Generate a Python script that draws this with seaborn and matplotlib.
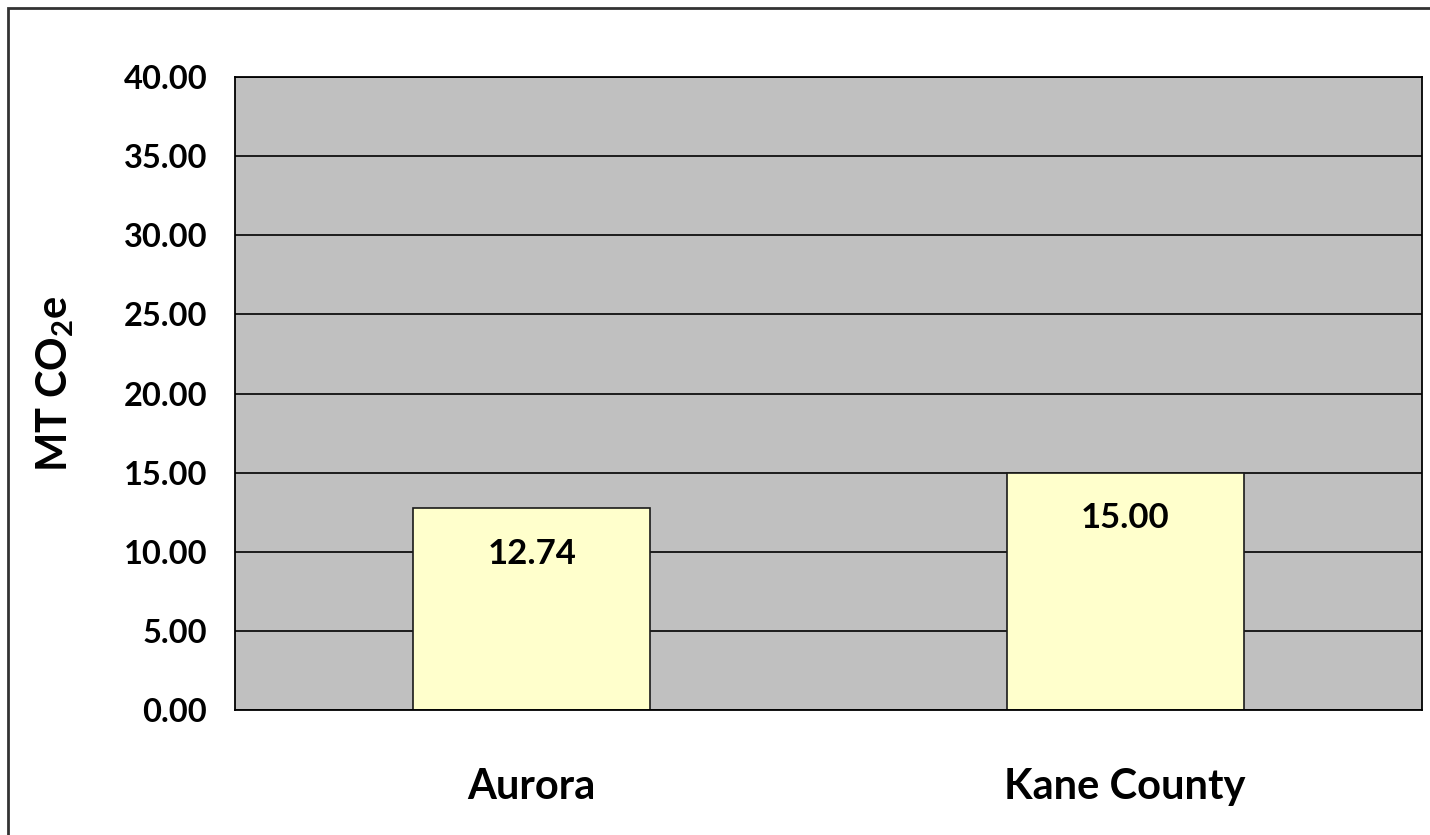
import matplotlib
matplotlib.use("Agg")
import matplotlib.pyplot as plt
from matplotlib.patches import Rectangle
import seaborn as sns
import pandas as pd

# Per-capita emissions by jurisdiction
places = ["Aurora", "Kane County"]
emissions = [12.74, 15.00]
y_ticks = [0, 5, 10, 15, 20, 25, 30, 35, 40]

sns.set_theme(style="whitegrid", rc={
    "axes.facecolor": "#C0C0C0",
    "axes.edgecolor": "black",
    "axes.linewidth": 1.3,
    "grid.color": "black",
    "grid.linewidth": 1.2,
})
plt.rcParams["font.family"] = ["Lato", "DejaVu Sans"]
plt.rcParams["mathtext.default"] = "regular"

df = pd.DataFrame({"place": places, "value": emissions})

fig = plt.figure(figsize=(14.3, 8.35), dpi=100)
ax = fig.add_axes([235 / 1430, 1 - 710 / 835, (1422 - 235) / 1430, (710 - 77) / 835])

sns.barplot(data=df, x="place", y="value", ax=ax, color="#FFFFCC",
            saturation=1, width=0.4, edgecolor="#1a1a1a", linewidth=1.2)
ax.set_axisbelow(True)
ax.set_xlim(-0.5, 1.5)
ax.set_ylim(0, 40)
ax.set_yticks(y_ticks)
ax.set_yticklabels([f"{t:.2f}" for t in y_ticks])
ax.grid(axis="x", visible=False)
ax.grid(axis="y", visible=True)

for spine in ax.spines.values():
    spine.set_visible(True)
    spine.set_color("black")

ax.tick_params(axis="y", length=0, pad=20, labelsize=23.5, labelcolor="black")
ax.tick_params(axis="x", length=0, pad=42, labelsize=30, labelcolor="black")
for lbl in ax.get_yticklabels() + ax.get_xticklabels():
    lbl.set_fontweight("bold")

ax.set_xlabel("")
ax.set_ylabel("MT CO$_2$e", fontsize=30, fontweight="bold", color="black")
ax.yaxis.label.set_va("center")
ax.yaxis.set_label_coords(-0.1516, 0.515)

# Value labels sit just inside the top of each bar
texts = ax.bar_label(ax.containers[0], labels=[f"{v:.2f}" for v in emissions],
                     label_type="edge", padding=-33, fontsize=25,
                     fontweight="bold", color="black")
for t in texts:
    t.set_va("center")

# Chart frame
fig.patches.append(Rectangle((8 / 1430, -0.1), 1.2, 1.1 - 8 / 835,
                             transform=fig.transFigure, fill=False,
                             edgecolor="#333333", linewidth=2.0))

fig.savefig("out.png", dpi=100, facecolor="white")
